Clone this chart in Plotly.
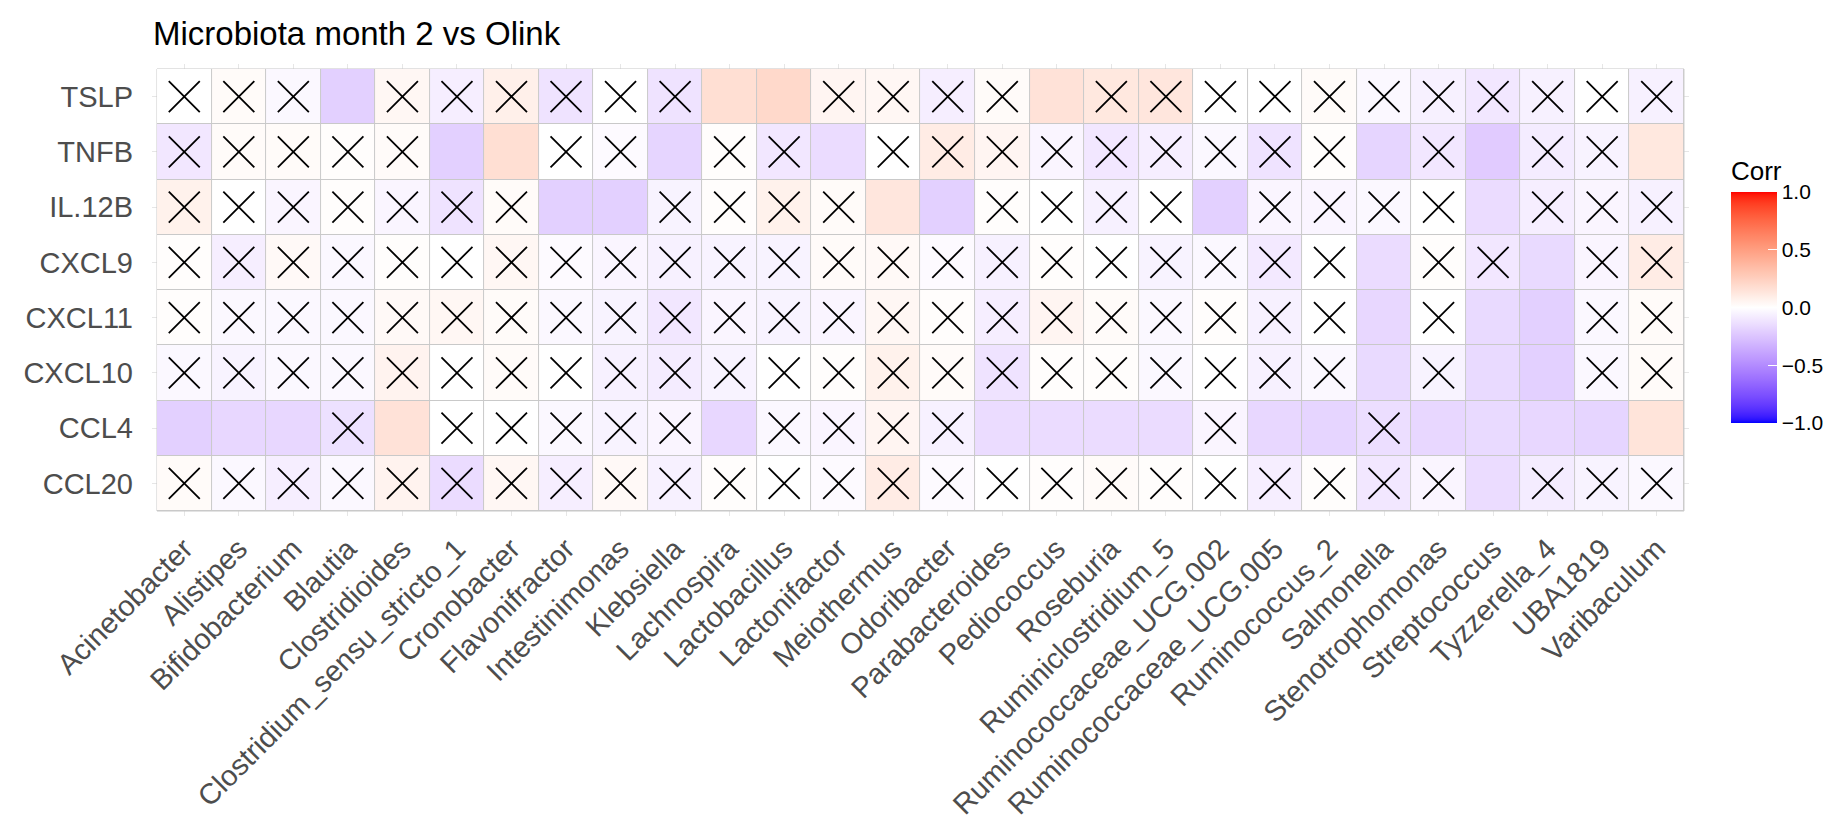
import plotly.graph_objects as go
import numpy as np

# ---------------- data ----------------
genera = ["Acinetobacter", "Alistipes", "Bifidobacterium", "Blautia", "Clostridioides",
          "Clostridium_sensu_stricto_1", "Cronobacter", "Flavonifractor", "Intestinimonas",
          "Klebsiella", "Lachnospira", "Lactobacillus", "Lactonifactor", "Meiothermus",
          "Odoribacter", "Parabacteroides", "Pediococcus", "Roseburia", "Ruminiclostridium_5",
          "Ruminococcaceae_UCG.002", "Ruminococcaceae_UCG.005", "Ruminococcus_2", "Salmonella",
          "Stenotrophomonas", "Streptococcus", "Tyzzerella_4", "UBA1819", "Varibaculum"]

# bottom to top
markers = ["CCL20", "CCL4", "CXCL10", "CXCL11", "CXCL9", "IL.12B", "TNFB", "TSLP"]

corr_TSLP = [0.00, 0.02, -0.03, -0.20, 0.04, -0.07, 0.08, -0.12, 0.00, -0.12, 0.17, 0.20, 0.05, 0.04,
             -0.07, 0.02, 0.15, 0.12, 0.13, 0.00, 0.00, 0.02, -0.03, -0.06, -0.10, -0.06, 0.00, -0.06]
corr_TNFB = [-0.10, 0.02, 0.02, 0.01, 0.02, -0.20, 0.17, 0.00, -0.02, -0.18, 0.01, -0.10, -0.15, 0.00,
             0.10, 0.05, -0.04, -0.10, -0.07, -0.03, -0.12, 0.01, -0.18, -0.10, -0.22, -0.08, -0.05, 0.12]
corr_IL12B = [0.07, 0.00, -0.04, 0.01, -0.04, -0.12, 0.02, -0.20, -0.20, -0.05, 0.01, 0.07, 0.02, 0.13,
              -0.20, 0.01, 0.00, -0.06, 0.00, -0.20, -0.04, -0.04, -0.03, 0.00, -0.15, -0.07, -0.04, -0.06]
corr_CXCL9 = [0.01, -0.07, 0.03, -0.03, 0.01, 0.00, 0.04, -0.02, -0.04, -0.06, -0.05, -0.05, 0.02, 0.03,
              -0.02, -0.06, 0.01, 0.00, -0.05, -0.03, -0.09, 0.00, -0.15, 0.01, -0.10, -0.16, -0.04, 0.10]
corr_CXCL11 = [0.01, -0.03, -0.03, -0.03, 0.03, 0.04, 0.02, -0.03, -0.05, -0.10, -0.04, -0.05, -0.04, 0.04,
               0.01, -0.07, 0.05, 0.02, -0.03, 0.01, -0.06, 0.00, -0.17, 0.00, -0.16, -0.20, -0.03, 0.02]
corr_CXCL10 = [-0.03, -0.05, -0.03, -0.03, 0.06, 0.00, 0.02, 0.00, -0.06, -0.08, -0.05, 0.00, 0.01, 0.07,
               0.02, -0.12, 0.01, 0.01, -0.03, 0.00, -0.06, -0.03, -0.16, -0.05, -0.16, -0.20, -0.03, 0.02]
corr_CCL4 = [-0.20, -0.17, -0.17, -0.13, 0.15, 0.00, 0.00, -0.03, -0.05, -0.04, -0.17, -0.03, -0.04, 0.05,
             -0.06, -0.15, -0.15, -0.15, -0.15, -0.04, -0.17, -0.18, -0.14, -0.17, -0.16, -0.17, -0.18, 0.14]
corr_CCL20 = [0.02, -0.03, -0.07, -0.03, 0.06, -0.15, 0.04, -0.07, 0.03, -0.06, 0.01, 0.00, -0.02, 0.10,
              -0.02, 0.00, 0.01, 0.02, 0.01, 0.00, -0.07, 0.01, -0.10, -0.04, -0.15, -0.08, -0.05, -0.03]

# 1 = not significant (crossed out)
ns_TSLP = [1, 1, 1, 0, 1, 1, 1, 1, 1, 1, 0, 0, 1, 1, 1, 1, 0, 1, 1, 1, 1, 1, 1, 1, 1, 1, 1, 1]
ns_TNFB = [1, 1, 1, 1, 1, 0, 0, 1, 1, 0, 1, 1, 0, 1, 1, 1, 1, 1, 1, 1, 1, 1, 0, 1, 0, 1, 1, 0]
ns_IL12B = [1, 1, 1, 1, 1, 1, 1, 0, 0, 1, 1, 1, 1, 0, 0, 1, 1, 1, 1, 0, 1, 1, 1, 1, 0, 1, 1, 1]
ns_CXCL9 = [1, 1, 1, 1, 1, 1, 1, 1, 1, 1, 1, 1, 1, 1, 1, 1, 1, 1, 1, 1, 1, 1, 0, 1, 1, 0, 1, 1]
ns_CXCL11 = [1, 1, 1, 1, 1, 1, 1, 1, 1, 1, 1, 1, 1, 1, 1, 1, 1, 1, 1, 1, 1, 1, 0, 1, 0, 0, 1, 1]
ns_CXCL10 = [1, 1, 1, 1, 1, 1, 1, 1, 1, 1, 1, 1, 1, 1, 1, 1, 1, 1, 1, 1, 1, 1, 0, 1, 0, 0, 1, 1]
ns_CCL4 = [0, 0, 0, 1, 0, 1, 1, 1, 1, 1, 0, 1, 1, 1, 1, 0, 0, 0, 0, 1, 0, 0, 1, 0, 0, 0, 0, 0]
ns_CCL20 = [1, 1, 1, 1, 1, 1, 1, 1, 1, 1, 1, 1, 1, 1, 1, 1, 1, 1, 1, 1, 1, 1, 1, 1, 0, 1, 1, 1]

corr_rows = [corr_CCL20, corr_CCL4, corr_CXCL10, corr_CXCL11, corr_CXCL9, corr_IL12B, corr_TNFB, corr_TSLP]
ns_rows = [ns_CCL20, ns_CCL4, ns_CXCL10, ns_CXCL11, ns_CXCL9, ns_IL12B, ns_TNFB, ns_TSLP]

colorbar_ticks = [-1.0, -0.5, 0.0, 0.5, 1.0]
colorbar_text = ["\u22121.0", "\u22120.5", "0.0", "0.5", "1.0"]

# ---------------- Lab-interpolated diverging colour scale (like ggplot2 gradient2) ----------------
def _lin(c):
    c = c / 255.0
    return c / 12.92 if c <= 0.04045 else ((c + 0.055) / 1.055) ** 2.4

def _gam(c):
    c = min(max(c, 0.0), 1.0)
    v = 12.92 * c if c <= 0.0031308 else 1.055 * c ** (1 / 2.4) - 0.055
    return int(round(min(max(v, 0), 1) * 255))

WN = (0.95047, 1.0, 1.08883)

def rgb2lab(rgb):
    r, g, b = (_lin(v) for v in rgb)
    X = 0.4124 * r + 0.3576 * g + 0.1805 * b
    Y = 0.2126 * r + 0.7152 * g + 0.0722 * b
    Z = 0.0193 * r + 0.1192 * g + 0.9505 * b
    def f(t):
        return t ** (1 / 3) if t > 0.008856 else 7.787 * t + 16 / 116
    fx, fy, fz = f(X / WN[0]), f(Y / WN[1]), f(Z / WN[2])
    return (116 * fy - 16, 500 * (fx - fy), 200 * (fy - fz))

def lab2rgb(lab):
    L, a, b = lab
    fy = (L + 16) / 116
    fx = fy + a / 500
    fz = fy - b / 200
    def finv(t):
        return t ** 3 if t ** 3 > 0.008856 else (t - 16 / 116) / 7.787
    X, Y, Z = WN[0] * finv(fx), WN[1] * finv(fy), WN[2] * finv(fz)
    r = 3.2406 * X - 1.5372 * Y - 0.4986 * Z
    g = -0.9689 * X + 1.8758 * Y + 0.0415 * Z
    bb = 0.0557 * X - 0.2040 * Y + 1.0570 * Z
    return "rgb(%d,%d,%d)" % (_gam(r), _gam(g), _gam(bb))

lab_low = rgb2lab((0, 0, 255))
lab_mid = rgb2lab((255, 255, 255))
lab_high = rgb2lab((255, 0, 0))
colorscale = []
for v in np.linspace(-1, 1, 81):
    t = abs(v)
    end = lab_low if v < 0 else lab_high
    lab = tuple(m + t * (e - m) for m, e in zip(lab_mid, end))
    colorscale.append([(v + 1) / 2, lab2rgb(lab)])

# ---------------- figure ----------------
fig = go.Figure()

fig.add_trace(go.Heatmap(
    z=corr_rows, x=genera, y=markers,
    zmin=-1, zmax=1, colorscale=colorscale,
    xgap=1, ygap=1, hoverinfo="skip",
    colorbar=dict(
        title=dict(text="Corr", side="top", font=dict(family="Liberation Sans, Arial", size=26, color="#000000")),
        tickvals=colorbar_ticks, ticktext=colorbar_text,
        tickfont=dict(family="Liberation Sans, Arial", size=21, color="#000000"),
        ticks="inside", ticklen=9, tickcolor="#ffffff", tickwidth=1,
        thickness=46, thicknessmode="pixels",
        len=266, lenmode="pixels",
        x=1.0273, xanchor="left", y=0.5, yanchor="middle",
        xpad=0, ypad=0, outlinewidth=0,
    ),
))

xs, ys = [], []
for mi, (m, row) in enumerate(zip(markers, ns_rows)):
    for gi, flag in enumerate(row):
        if flag:
            xs.append(genera[gi])
            ys.append(m)

fig.add_trace(go.Scatter(
    x=xs, y=ys, mode="markers", hoverinfo="skip", showlegend=False,
    marker=dict(symbol="x-thin", size=31, color="#000000",
                line=dict(width=1.8, color="#000000")),
))

n_x, n_y = len(genera), len(markers)
fig.add_shape(type="rect", xref="x", yref="y", x0=-0.5, x1=n_x - 0.5, y0=-0.5, y1=n_y - 0.5,
              fillcolor="#c9c9c9", line=dict(color="#c9c9c9", width=1), layer="between")

axis_font = dict(family="Liberation Sans, Arial", size=29, color="#4d4d4d")
fig.update_xaxes(
    type="category", categoryorder="array", categoryarray=genera,
    range=[-0.592, n_x - 1 + 0.592], tickangle=-45, tickfont=axis_font,
    showgrid=True, gridcolor="#e6e6e6", gridwidth=1, zeroline=False, showline=False,
    ticks="", ticklabelstandoff=9, fixedrange=True,
)
fig.update_yaxes(
    type="category", categoryorder="array", categoryarray=markers,
    range=[-0.59, n_y - 1 + 0.59], tickfont=axis_font,
    showgrid=True, gridcolor="#e6e6e6", gridwidth=1, zeroline=False, showline=False,
    ticks="", ticklabelstandoff=18, fixedrange=True,
)

fig.update_layout(
    width=1840, height=825,
    margin=dict(l=144, r=159, t=56, b=317),
    paper_bgcolor="#ffffff", plot_bgcolor="#ffffff",
    title=dict(text="Microbiota month 2 vs Olink", x=145 / 1840, xanchor="left", xref="container",
               y=1 - 25 / 825, yref="container", yanchor="middle",
               font=dict(family="Liberation Sans, Arial", size=33, color="#000000")),
    showlegend=False,
)

fig.write_html("out.html")
